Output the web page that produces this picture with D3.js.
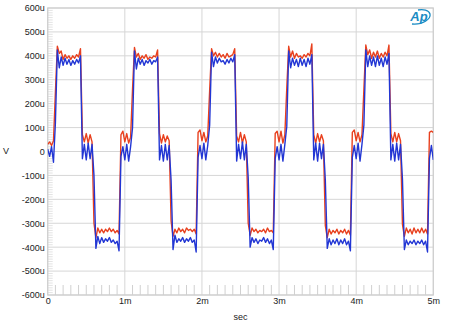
<!DOCTYPE html>
<html><head><meta charset="utf-8">
<script src="https://cdn.jsdelivr.net/npm/d3@7"></script>
<style>body{margin:0;background:#fff}svg{display:block}</style>
</head><body>
<script>
// sample interval (ms) of the captured waveform
const sampleStepMs = 0.025;
// red channel, microvolts, one row per 1 ms cycle (40 samples each) + final sample
const redValues = [
  30,40,25,45,250,440,410,420,385,405,390,400,385,400,390,405,395,430,70,40,75,35,70,40,-300,-360,-320,-340,-325,-340,-325,-335,-320,-335,-325,-340,-330,-345,70,85,
  40,75,35,60,260,435,395,410,385,400,390,405,385,395,390,400,395,425,75,35,70,40,65,45,-290,-355,-325,-340,-320,-335,-325,-340,-320,-330,-325,-335,-325,-345,80,90,
  45,80,40,65,255,430,400,415,395,410,395,405,390,410,395,400,405,430,65,40,80,35,70,40,-300,-350,-320,-335,-325,-340,-330,-335,-325,-340,-320,-335,-330,-340,75,85,
  40,85,35,70,265,440,395,420,390,410,395,400,390,405,395,410,400,450,70,35,75,40,70,45,-310,-360,-325,-345,-330,-340,-325,-345,-330,-340,-325,-345,-330,-350,80,90,
  45,80,40,70,260,445,405,425,390,415,395,420,390,410,395,415,400,445,75,40,80,40,75,45,-305,-355,-320,-340,-325,-345,-320,-340,-325,-340,-320,-340,-325,-345,80,85,
  80
];
// blue channel, microvolts
const blueValues = [
  10,-20,20,-45,120,425,350,395,360,390,365,385,360,380,365,385,370,400,-30,30,-35,35,-30,30,-100,-405,-355,-385,-360,-380,-365,-375,-360,-380,-370,-385,-375,-415,-20,20,
  -35,30,-40,20,100,420,345,390,365,385,360,380,370,385,365,380,375,395,-35,25,-40,30,-35,25,-120,-410,-350,-380,-365,-375,-360,-380,-365,-375,-360,-380,-370,-420,-25,25,
  -30,35,-35,25,110,415,355,395,370,390,375,380,365,385,370,390,375,405,-40,30,-30,40,-35,30,-110,-400,-360,-380,-365,-385,-370,-375,-360,-380,-365,-385,-370,-410,-30,20,
  -35,30,-40,30,105,420,350,390,360,385,355,390,360,385,355,390,365,405,-35,35,-40,35,-30,30,-120,-405,-365,-390,-370,-385,-365,-390,-370,-385,-365,-390,-375,-415,-25,25,
  -30,35,-40,30,110,425,355,400,360,395,355,400,360,390,355,395,365,410,-35,30,-40,35,-35,30,-115,-410,-370,-390,-375,-385,-370,-390,-375,-385,-370,-390,-375,-420,-30,25,
  -35
];
const yTicks = [-600,-500,-400,-300,-200,-100,0,100,200,300,400,500,600];
const yTickLabels = ["-600u","-500u","-400u","-300u","-200u","-100u","0","100u","200u","300u","400u","500u","600u"];
const xTicks = [0,1,2,3,4,5];
const xTickLabels = ["0","1m","2m","3m","4m","5m"];
const xLabel = "sec", yLabel = "V";

const W = 450, H = 333;
const L = 47.7, R = 433.3, T = 8, B = 295;
const font = "'Liberation Sans', Arial, sans-serif";

const svg = d3.select("body").append("svg").attr("width", W).attr("height", H);
const x = d3.scaleLinear().domain([0, 5]).range([L, R]);
const y = d3.scaleLinear().domain([-600, 600]).range([B, T]);

// gridlines
const g = svg.append("g");
g.selectAll(".hg").data(yTicks).join("line")
  .attr("x1", L).attr("x2", R).attr("y1", d => y(d)).attr("y2", d => y(d))
  .attr("stroke", "#d6d6d6").attr("stroke-width", 1);
g.selectAll(".vg").data(xTicks).join("line")
  .attr("y1", T).attr("y2", B).attr("x1", d => x(d)).attr("x2", d => x(d))
  .attr("stroke", "#d6d6d6").attr("stroke-width", 1);

// minor ticks
const minorX = d3.range(0, 51).map(i => i / 10).filter(v => Math.abs(v - Math.round(v)) > 1e-6);
g.selectAll(".mx").data(minorX).join("line")
  .attr("x1", d => x(d)).attr("x2", d => x(d)).attr("y1", B).attr("y2", B - 10)
  .attr("stroke", "#d0d0d0").attr("stroke-width", 1);
const minorY = d3.range(-60, 61).map(i => i * 10).filter(v => v % 100 !== 0);
g.selectAll(".my").data(minorY).join("line")
  .attr("x1", L).attr("x2", L + 5).attr("y1", d => y(d)).attr("y2", d => y(d))
  .attr("stroke", "#dcdcdc").attr("stroke-width", 0.8);

// frame
svg.append("rect").attr("x", L).attr("y", T).attr("width", R - L).attr("height", B - T)
  .attr("fill", "none").attr("stroke", "#cfcfcf").attr("stroke-width", 1.2);

// axes (text only)
const yAxis = d3.axisLeft(y).tickValues(yTicks).tickSize(0).tickPadding(3)
  .tickFormat((d, i) => yTickLabels[i]);
const ya = svg.append("g").attr("transform", `translate(${L},0)`).call(yAxis);
ya.select(".domain").remove();
ya.selectAll("text").attr("font-family", font).attr("font-size", 9).attr("fill", "#222");

const xAxis = d3.axisBottom(x).tickValues(xTicks).tickSize(0).tickPadding(3)
  .tickFormat((d, i) => xTickLabels[i]);
const xa = svg.append("g").attr("transform", `translate(0,${B})`).call(xAxis);
xa.select(".domain").remove();
xa.selectAll("text").attr("font-family", font).attr("font-size", 9).attr("fill", "#222");

svg.append("text").attr("x", 240.5).attr("y", 320).attr("text-anchor", "middle")
  .attr("font-family", font).attr("font-size", 9).attr("fill", "#222").text(xLabel);
svg.append("text").attr("x", 6).attr("y", 154).attr("text-anchor", "middle")
  .attr("font-family", font).attr("font-size", 9).attr("fill", "#222").text(yLabel);

// clip
svg.append("clipPath").attr("id", "clip").append("rect")
  .attr("x", L).attr("y", T).attr("width", R - L).attr("height", B - T);

const line = d3.line().x((d, i) => x(i * sampleStepMs)).y(d => y(d));
const lines = svg.append("g").attr("clip-path", "url(#clip)");
lines.append("path").datum(redValues).attr("d", line)
  .attr("fill", "none").attr("stroke", "#e8401e").attr("stroke-width", 1.4).attr("stroke-linejoin", "round");
lines.append("path").datum(blueValues).attr("d", line)
  .attr("fill", "none").attr("stroke", "#2236d4").attr("stroke-width", 1.4).attr("stroke-linejoin", "round");

// Ap logo
const logo = svg.append("g").attr("transform", "translate(419,17)");
logo.append("path").attr("d", "M -7 7 C 4 8, 12 2, 11 -3 C 10 -7, 4 -8, -1 -7")
  .attr("fill", "none").attr("stroke", "#1b8cc4").attr("stroke-width", 1.3);
logo.append("text").attr("x", 0).attr("y", 4).attr("text-anchor", "middle")
  .attr("font-family", font).attr("font-style", "italic").attr("font-weight", "bold")
  .attr("font-size", 13).attr("fill", "#1b8cc4").text("Ap");
</script>
</body></html>
